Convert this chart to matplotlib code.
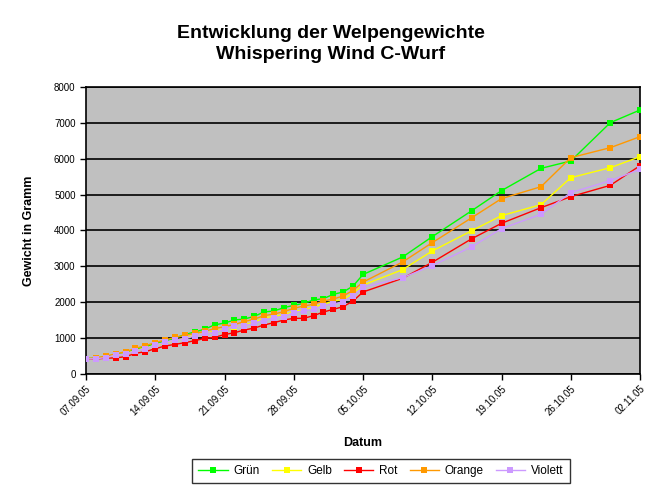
import matplotlib
matplotlib.use("Agg")
import matplotlib.pyplot as plt
import matplotlib.dates as mdates
import numpy as np
import datetime as dt

plt.rcParams['font.family'] = ['Liberation Sans', 'DejaVu Sans']

start = dt.date(2005, 9, 7)
day_offsets = list(range(0, 29)) + [32, 35, 39, 42, 46, 49, 53, 56]
dates = [start + dt.timedelta(days=d) for d in day_offsets]

gruen = [430, 440, 490, 540, 600, 690, 760, 850, 920, 1000, 1100, 1171, 1250, 1370,
         1420, 1505, 1533, 1605, 1730, 1756, 1849, 1914, 1970, 2063, 2100, 2221, 2286,
         2453, 2774, 3261, 3828, 4553, 5111, 5733, 5937, 7006, 7359]
gelb = [425, 430, 470, 520, 570, 660, 720, 800, 870, 940, 1000, 1080, 1120, 1200,
        1250, 1300, 1370, 1450, 1560, 1617, 1650, 1750, 1790, 1860, 1950, 2030, 2080,
        2250, 2480, 2908, 3429, 3995, 4414, 4720, 5473, 5751, 6058]
rot = [420, 420, 440, 450, 483, 576, 622, 706, 780, 827, 873, 929, 994, 1022,
       1100, 1150, 1226, 1280, 1366, 1431, 1505, 1552, 1552, 1626, 1728, 1803, 1877,
       2035, 2286, 2667, 3113, 3772, 4200, 4637, 4943, 5259, 5807]
orange = [430, 445, 500, 560, 622, 715, 790, 873, 950, 1022, 1078, 1130, 1190, 1265,
          1320, 1380, 1459, 1530, 1626, 1672, 1737, 1830, 1895, 1942, 2035, 2091, 2174,
          2335, 2560, 3122, 3661, 4358, 4888, 5222, 6030, 6309, 6615]
violett = [418, 427, 455, 530, 557, 650, 706, 808, 883, 948, 980, 1059, 1134, 1150,
           1250, 1330, 1345, 1412, 1490, 1560, 1598, 1709, 1765, 1803, 1895, 1951, 2016,
           2174, 2416, 2685, 3020, 3549, 4052, 4452, 5055, 5389, 5705]

series_names = ['Grün', 'Gelb', 'Rot', 'Orange', 'Violett']
series_vals = [gruen, gelb, rot, orange, violett]
series_colors = ['#00FF00', '#FFFF00', '#FF0000', '#FF9900', '#CC99FF']

fig = plt.figure(figsize=(6.63, 4.9), dpi=100)
ax = fig.add_axes([86/663, 1 - 374/490, (640-86)/663, (374-87)/490])
ax.set_facecolor('#C0C0C0')

for name, vals, col in zip(series_names, series_vals, series_colors):
    ax.plot(dates, vals, color=col, lw=1.0, marker='s', ms=4.5,
            markeredgewidth=0, label=name, zorder=3)

ax.set_ylim(0, 8000)
ax.set_yticks(np.arange(0, 8001, 1000))
ax.yaxis.grid(True, color='black', lw=1.2, zorder=1)
ax.set_axisbelow(True)
ax.set_xlim(dates[0], dates[-1])
tick_dates = [start + dt.timedelta(days=7*i) for i in range(9)]
ax.set_xticks(tick_dates)
ax.xaxis.set_major_formatter(mdates.DateFormatter('%d.%m.%y'))
for lab in ax.get_xticklabels():
    lab.set_rotation(45)
    lab.set_ha('right')
    lab.set_rotation_mode('anchor')
ax.tick_params(axis='both', labelsize=7, length=4, width=1, direction='out', color='black')
ax.tick_params(axis='x', pad=3)
for sp in ax.spines.values():
    sp.set_color('black')
    sp.set_linewidth(1.2)

ax.set_xlabel('Datum', fontsize=9, fontweight='bold', labelpad=14)
ax.set_ylabel('Gewicht in Gramm', fontsize=9, fontweight='bold', labelpad=14)

fig.text(331/663, 1 - 44/490, 'Entwicklung der Welpengewichte\nWhispering Wind C-Wurf',
         ha='center', va='center', fontsize=14, fontweight='bold', linespacing=1.35)

leg = fig.legend(loc='center', bbox_to_anchor=(381/663, 1 - 471/490), ncol=5,
                 fontsize=8.5, frameon=True, fancybox=False, edgecolor='black',
                 handlelength=2.5, columnspacing=1.0, handletextpad=0.5,
                 borderpad=0.5)
leg.get_frame().set_linewidth(1.0)

fig.savefig('out.png', dpi=100)
